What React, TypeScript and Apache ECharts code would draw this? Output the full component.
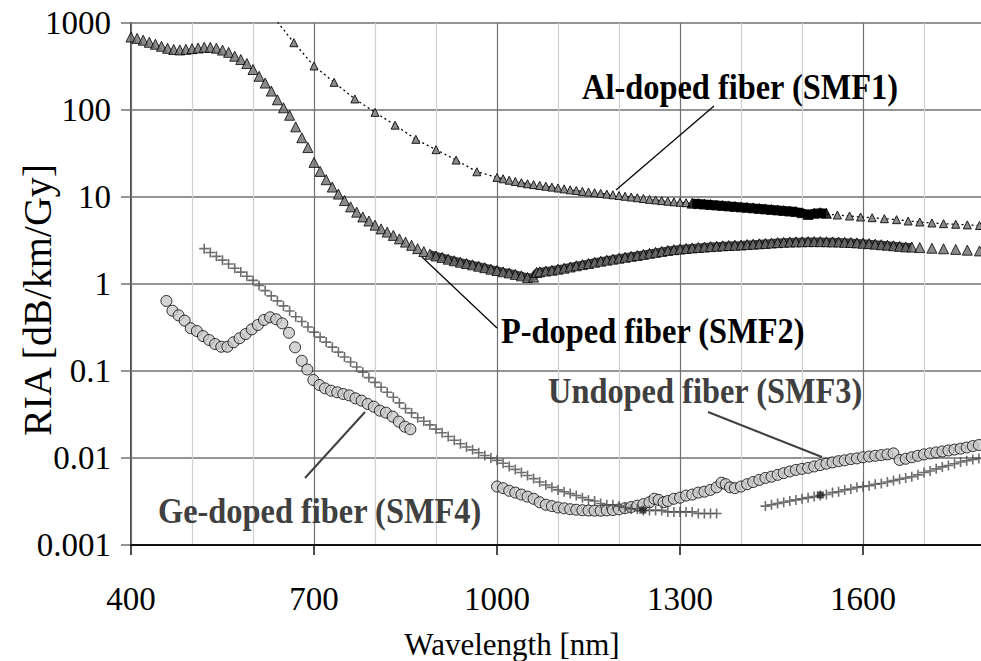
import React, { useEffect, useRef } from "react";
import * as echarts from "echarts";

// ---------- data (wavelength nm, RIA dB/km/Gy) ----------
const X_MAJOR_TICKS = [400, 700, 1000, 1300, 1600];

// Al-doped fiber (SMF1): sparse triangles, dense part, black dense band, tail
const smf1Sparse: number[][] = [
  [625, 1400], [667, 594], [700, 321], [733, 208], [767, 134], [800, 94], [833, 67],
  [867, 46], [900, 35], [933, 26.6], [967, 19.5],
];
const smf1Dense: number[][] = [
  [1000, 16.8], [1010, 16.2], [1020, 15.6], [1030, 15.1], [1040, 14.6], [1050, 14.2],
  [1060, 13.9], [1070, 13.6], [1080, 13.3], [1090, 13.0], [1100, 12.7], [1110, 12.4],
  [1120, 12.1], [1130, 11.9], [1140, 11.6], [1150, 11.4], [1160, 11.2], [1170, 11.0],
  [1180, 10.8], [1190, 10.6], [1200, 10.4], [1210, 10.2], [1220, 10.0], [1230, 9.8],
  [1240, 9.6], [1250, 9.4], [1260, 9.25], [1270, 9.1], [1280, 8.95], [1290, 8.8],
  [1300, 8.7], [1310, 8.6],
];
const smf1Band: number[][] = [
  [1320, 8.5], [1330, 8.4], [1340, 8.3], [1350, 8.2], [1360, 8.1], [1370, 8.0],
  [1380, 7.9], [1390, 7.8], [1400, 7.7], [1410, 7.6], [1420, 7.5], [1430, 7.4],
  [1440, 7.3], [1450, 7.2], [1460, 7.1], [1470, 7.0], [1480, 6.9], [1490, 6.8],
  [1500, 6.6], [1510, 6.3], [1520, 6.5], [1530, 6.6], [1540, 6.5],
];
const smf1Tail: number[][] = [
  [1558, 6.21], [1578, 6.05], [1596, 5.89], [1615, 5.78], [1635, 5.63], [1655, 5.49],
  [1674, 5.3], [1693, 5.16], [1713, 5.03], [1732, 4.94], [1752, 4.86], [1771, 4.78],
  [1791, 4.7],
];

// P-doped fiber (SMF2)
const smf2Visible: number[][] = [
  [400, 690], [410, 665], [420, 635], [430, 600], [440, 570], [450, 540], [460, 512],
  [470, 496], [480, 490], [490, 498], [500, 507], [510, 516], [520, 525], [530, 525],
  [540, 514], [550, 488], [560, 460], [570, 415], [580, 380], [590, 342], [600, 292],
  [610, 244], [620, 204], [630, 165], [640, 131], [650, 106], [660, 87], [670, 64],
  [680, 48], [690, 37], [700, 25], [710, 19.7], [720, 15.8], [730, 13], [740, 10.8],
  [750, 9.1], [760, 7.7], [770, 6.7], [780, 5.9], [790, 5.3], [800, 4.75], [810, 4.3],
  [820, 3.95], [830, 3.62], [840, 3.3], [850, 3.03], [860, 2.78], [870, 2.55], [880, 2.36],
];
const smf2Dense: number[][] = [
  [890, 2.2], [900, 2.1], [910, 2.02], [920, 1.93], [930, 1.85], [940, 1.78], [950, 1.72],
  [960, 1.66], [970, 1.6], [980, 1.54], [990, 1.48], [1000, 1.43], [1010, 1.38],
  [1020, 1.34], [1030, 1.29], [1040, 1.24], [1050, 1.19], [1060, 1.2], [1065, 1.36],
  [1070, 1.38], [1080, 1.41], [1090, 1.44], [1100, 1.48], [1110, 1.52], [1120, 1.57],
  [1130, 1.62], [1140, 1.67], [1150, 1.72], [1160, 1.78], [1170, 1.83], [1180, 1.88],
  [1190, 1.93], [1200, 1.98], [1210, 2.03], [1220, 2.08], [1230, 2.13], [1240, 2.19],
  [1250, 2.25], [1260, 2.31], [1270, 2.37], [1280, 2.43], [1290, 2.48], [1300, 2.52],
  [1310, 2.56], [1320, 2.6], [1330, 2.63], [1340, 2.66], [1350, 2.69], [1360, 2.72],
  [1370, 2.75], [1380, 2.77], [1390, 2.79], [1400, 2.81], [1410, 2.84], [1420, 2.87],
  [1430, 2.9], [1440, 2.93], [1450, 2.96], [1460, 2.99], [1470, 3.02], [1480, 3.04],
  [1490, 3.05], [1500, 3.06], [1510, 3.07], [1520, 3.07], [1530, 3.07], [1540, 3.06],
  [1550, 3.05], [1560, 3.04], [1570, 3.02], [1580, 3.0], [1590, 2.97], [1600, 2.94],
  [1610, 2.91], [1620, 2.87], [1630, 2.83], [1640, 2.79], [1650, 2.75], [1660, 2.71],
  [1670, 2.67], [1680, 2.66],
];
const smf2Tail: number[][] = [
  [1693, 2.62], [1713, 2.58], [1732, 2.54], [1752, 2.5], [1771, 2.45], [1791, 2.4],
];

// Circles: visible range (Ge-doped, SMF4) and near-IR range (undoped, SMF3)
const circlesVis: number[][] = [
  [458, 0.638], [468, 0.493], [478, 0.436], [488, 0.379], [498, 0.31], [508, 0.288],
  [518, 0.252], [528, 0.227], [538, 0.204], [548, 0.19], [558, 0.19], [568, 0.214],
  [578, 0.238], [588, 0.266], [598, 0.301], [608, 0.338], [618, 0.386], [628, 0.414],
  [638, 0.393], [648, 0.353], [659, 0.275], [669, 0.187], [680, 0.131], [689, 0.104],
  [699, 0.0788], [709, 0.069], [718, 0.0632], [728, 0.0594], [738, 0.0569], [748, 0.0544],
  [758, 0.0525], [768, 0.0485], [778, 0.0456], [788, 0.0418], [798, 0.0389], [808, 0.035],
  [818, 0.0332], [829, 0.0299], [839, 0.0262], [849, 0.0229], [858, 0.0214],
];
const circlesNir: number[][] = [
  [1000, 0.0047], [1010, 0.0045], [1020, 0.0042], [1030, 0.004], [1040, 0.0038],
  [1050, 0.0036], [1060, 0.0034], [1070, 0.0031], [1080, 0.0029], [1090, 0.0028],
  [1100, 0.0027], [1110, 0.00264], [1120, 0.00258], [1130, 0.00254], [1140, 0.00251],
  [1150, 0.00249], [1160, 0.00248], [1170, 0.00248], [1180, 0.0025], [1190, 0.00252],
  [1200, 0.00257], [1210, 0.00265], [1220, 0.00273], [1230, 0.00283], [1240, 0.00295],
  [1250, 0.0031], [1258, 0.0034], [1265, 0.0033], [1273, 0.0031], [1280, 0.0032],
  [1290, 0.0034], [1300, 0.0035], [1310, 0.0037], [1320, 0.0038], [1330, 0.004],
  [1340, 0.0041], [1350, 0.0043], [1360, 0.0046], [1368, 0.0052], [1375, 0.005],
  [1382, 0.0046], [1390, 0.0045], [1400, 0.0047], [1410, 0.005], [1420, 0.0053],
  [1430, 0.0056], [1440, 0.0059], [1450, 0.0061], [1460, 0.0064], [1470, 0.0067],
  [1480, 0.007], [1490, 0.0073], [1500, 0.0075], [1510, 0.0077], [1520, 0.008],
  [1530, 0.0083], [1540, 0.0086], [1550, 0.0089], [1560, 0.0092], [1570, 0.0094],
  [1580, 0.0097], [1590, 0.0099], [1600, 0.0102], [1610, 0.0104], [1620, 0.0106],
  [1630, 0.0108], [1640, 0.011], [1650, 0.0113], [1660, 0.0095], [1670, 0.0098],
  [1680, 0.0102], [1690, 0.0106], [1700, 0.011], [1710, 0.0113], [1720, 0.0116],
  [1730, 0.0119], [1740, 0.0122], [1750, 0.0125], [1760, 0.0128], [1770, 0.0132],
  [1780, 0.0137], [1790, 0.0141],
];

// Crosses
const crossesA: number[][] = [
  [520, 2.55], [530, 2.3], [540, 2.08], [550, 1.88], [560, 1.7], [570, 1.52], [580, 1.37],
  [590, 1.23], [600, 1.1], [610, 0.96], [620, 0.84], [630, 0.73], [640, 0.64], [650, 0.56],
  [660, 0.49], [670, 0.42], [680, 0.37], [690, 0.32], [700, 0.28], [710, 0.245],
  [720, 0.215], [730, 0.188], [740, 0.165], [750, 0.145], [760, 0.127], [770, 0.111],
  [780, 0.097], [790, 0.084], [800, 0.074], [810, 0.065], [820, 0.057], [830, 0.05],
  [840, 0.043], [850, 0.037], [860, 0.033], [870, 0.029], [880, 0.0265], [890, 0.024],
  [900, 0.0215], [910, 0.0195], [920, 0.0177], [930, 0.016], [940, 0.0146], [950, 0.0134],
  [960, 0.0124], [970, 0.0115], [980, 0.0107], [990, 0.01], [1000, 0.0094], [1010, 0.0087],
  [1020, 0.008], [1030, 0.0074], [1040, 0.0068], [1050, 0.0063], [1060, 0.0058],
  [1070, 0.0053], [1080, 0.0049], [1090, 0.0046], [1100, 0.0043], [1110, 0.0041],
  [1120, 0.0039], [1130, 0.0037], [1140, 0.0035], [1150, 0.0033], [1160, 0.0032],
  [1170, 0.003], [1180, 0.0029], [1190, 0.0029], [1200, 0.0028], [1210, 0.0027],
  [1220, 0.0026], [1230, 0.0026], [1240, 0.0025], [1250, 0.0025], [1260, 0.0025],
  [1270, 0.0025], [1280, 0.0024], [1290, 0.0024], [1300, 0.0024], [1310, 0.0024],
  [1320, 0.0024], [1330, 0.0023], [1340, 0.0023], [1350, 0.0023], [1360, 0.0023],
];
const crossesB: number[][] = [
  [1440, 0.0028], [1450, 0.0029], [1460, 0.003], [1470, 0.0031], [1480, 0.0032],
  [1490, 0.0033], [1500, 0.0034], [1510, 0.0035], [1520, 0.0036], [1530, 0.0037],
  [1540, 0.0038], [1550, 0.004], [1560, 0.0041], [1570, 0.0043], [1580, 0.0044],
  [1590, 0.0046], [1600, 0.0047], [1610, 0.0048], [1620, 0.005], [1630, 0.0051],
  [1640, 0.0053], [1650, 0.0055], [1660, 0.0057], [1670, 0.0059], [1680, 0.0061],
  [1690, 0.0064], [1700, 0.0068], [1710, 0.0071], [1720, 0.0075], [1730, 0.0079],
  [1740, 0.0082], [1750, 0.0086], [1760, 0.009], [1770, 0.0093], [1780, 0.0096],
  [1790, 0.0099],
];
const squareMarkers: number[][] = [[1239, 0.00252], [1530, 0.00376]];

const LABELS = {
  al: "Al-doped fiber (SMF1)",
  p: "P-doped fiber (SMF2)",
  und: "Undoped fiber (SMF3)",
  ge: "Ge-doped fiber (SMF4)",
  xName: "Wavelength [nm]",
  yName: "RIA [dB/km/Gy]",
};

const SERIF = "Liberation Serif";
const CROSS = "path://M4.2,0h1.6v4.2h4.2v1.6h-4.2v4.2h-1.6v-4.2h-4.2v-1.6h4.2z";

export default function App() {
  const ref = useRef<HTMLDivElement>(null);
  useEffect(() => {
    if (!ref.current) return;
    const chart = echarts.init(ref.current, null, { renderer: "svg" });
    const annot = (text: string, x: number, y: number, fill: string) => ({
      type: "text",
      x,
      y,
      scaleX: 0.9,
      z: 100,
      style: {
        text,
        fill,
        font: `bold 36px ${SERIF}`,
        align: "left",
        verticalAlign: "middle",
      },
    });
    const leader = (x1: number, y1: number, x2: number, y2: number, stroke: string, w: number) => ({
      type: "line",
      z: 100,
      shape: { x1, y1, x2, y2 },
      style: { stroke, lineWidth: w },
    });
    chart.setOption({
      animation: false,
      backgroundColor: "#ffffff",
      textStyle: { fontFamily: SERIF },
      grid: { left: 131, top: 23, width: 854, height: 522, outerBoundsMode: "none" },
      xAxis: [
        {
          type: "value",
          min: 400,
          max: 1800,
          interval: 100,
          axisLine: { show: true, onZero: false, lineStyle: { color: "#111", width: 2 } },
          axisTick: { show: false },
          axisLabel: { show: false },
          splitLine: { show: true, lineStyle: { color: ["#707070", "#cfcfcf", "#cfcfcf"], width: 1.2 } },
          z: 2,
        },
        {
          type: "value",
          min: 400,
          max: 1800,
          interval: 100,
          position: "bottom",
          axisLine: { show: false },
          axisTick: { show: true, customValues: X_MAJOR_TICKS, length: 10, lineStyle: { color: "#111", width: 1.5 } },
          axisLabel: {
            show: true,
            customValues: X_MAJOR_TICKS,
            margin: 37,
            fontSize: 33,
            fontFamily: SERIF,
            color: "#000",
            formatter: (v: number) => String(Math.round(v)),
          },
          splitLine: { show: false },
        },
      ],
      yAxis: {
        type: "log",
        logBase: 10,
        min: 0.001,
        max: 1000,
        axisLine: { show: true, onZero: false, lineStyle: { color: "#111", width: 1.5 } },
        axisTick: { show: true, length: 10, lineStyle: { color: "#707070", width: 1.5 } },
        axisLabel: {
          margin: 20,
          fontSize: 33,
          fontFamily: SERIF,
          color: "#000",
          formatter: (v: number) => (v >= 1 ? String(Math.round(v)) : String(Number(v.toPrecision(1)))),
        },
        splitLine: { show: true, lineStyle: { color: "#707070", width: 1.5 } },
      },
      series: [
        {
          name: "Al-doped fiber (SMF1)",
          type: "line",
          data: [...smf1Sparse, ...smf1Dense, ...smf1Tail],
          symbol: "triangle",
          symbolSize: 8,
          lineStyle: { color: "#000", width: 1.3, type: [2, 3] },
          itemStyle: { color: "#8c8c8c", borderColor: "#1a1a1a", borderWidth: 1 },
          silent: true,
          z: 3,
        },
        {
          name: "Al-doped fiber (SMF1) dense band",
          type: "line",
          data: smf1Band,
          symbol: "none",
          lineStyle: { color: "#000", width: 9 },
          silent: true,
          z: 4,
        },
        {
          name: "Al-doped fiber (SMF1) dense",
          type: "scatter",
          data: smf1Band,
          symbol: "triangle",
          symbolSize: 10,
          itemStyle: { color: "#000", borderColor: "#000", borderWidth: 1 },
          silent: true,
          z: 4,
        },
        {
          name: "P-doped fiber (SMF2) band",
          type: "line",
          data: smf2Dense,
          symbol: "none",
          lineStyle: { color: "#3c3c3c", width: 8 },
          silent: true,
          z: 3,
        },
        {
          name: "P-doped fiber (SMF2)",
          type: "scatter",
          data: [...smf2Visible, ...smf2Dense, ...smf2Tail],
          symbol: "triangle",
          symbolSize: 10,
          itemStyle: { color: "#6e6e6e", borderColor: "#000", borderWidth: 1 },
          silent: true,
          z: 3,
        },
        {
          name: "Ge-doped fiber (SMF4)",
          type: "scatter",
          data: circlesVis,
          symbol: "circle",
          symbolSize: 11,
          itemStyle: { color: "#c8c8c8", borderColor: "#000", borderWidth: 1 },
          silent: true,
          z: 3,
        },
        {
          name: "Undoped fiber (SMF3)",
          type: "scatter",
          data: circlesNir,
          symbol: "circle",
          symbolSize: 11,
          itemStyle: { color: "#c8c8c8", borderColor: "#000", borderWidth: 1 },
          silent: true,
          z: 3,
        },
        {
          name: "crosses A",
          type: "scatter",
          data: crossesA,
          symbol: CROSS,
          symbolSize: 10,
          itemStyle: { color: "#4a4a4a", borderWidth: 0 },
          silent: true,
          z: 4,
        },
        {
          name: "crosses B",
          type: "scatter",
          data: crossesB,
          symbol: CROSS,
          symbolSize: 10,
          itemStyle: { color: "#4a4a4a", borderWidth: 0 },
          silent: true,
          z: 4,
        },
        {
          name: "markers",
          type: "scatter",
          data: squareMarkers,
          symbol: "rect",
          symbolSize: 7,
          itemStyle: { color: "#222" },
          silent: true,
          z: 5,
        },
      ],
      graphic: [
        leader(714, 106, 616, 190, "#000", 1.2),
        leader(422, 257, 497, 328, "#000", 1.2),
        leader(708, 412, 822, 457, "#404040", 2),
        leader(365, 412, 305, 478, "#404040", 2),
        annot(LABELS.al, 582, 86, "#000"),
        annot(LABELS.p, 501, 330, "#000"),
        annot(LABELS.und, 548, 390, "#404040"),
        annot(LABELS.ge, 158, 510, "#404040"),
        {
          type: "text",
          x: 512,
          y: 644,
          style: {
            text: LABELS.xName,
            fill: "#000",
            font: `31px ${SERIF}`,
            align: "center",
            verticalAlign: "middle",
          },
        },
        {
          type: "text",
          x: 37,
          y: 300,
          rotation: Math.PI / 2,
          style: {
            text: LABELS.yName,
            fill: "#000",
            font: `40px ${SERIF}`,
            align: "center",
            verticalAlign: "middle",
          },
        },
      ],
    });
    return () => chart.dispose();
  }, []);
  return (
    <div
      ref={ref}
      style={{ position: "fixed", left: 0, top: 0, width: 981, height: 661, background: "#fff" }}
    />
  );
}
